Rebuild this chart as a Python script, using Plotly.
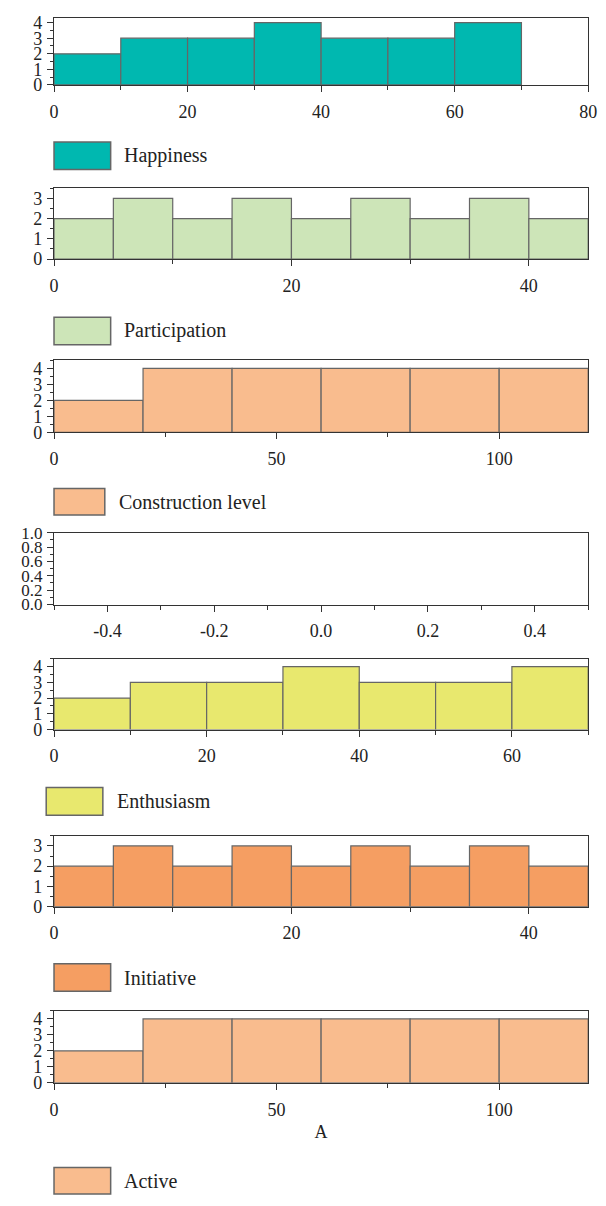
import plotly.graph_objects as go

# ---------------- data ----------------
happiness_edges = [0, 10, 20, 30, 40, 50, 60]
happiness_counts = [2, 3, 3, 4, 3, 3, 4]
happiness_width = 10

participation_edges = [0, 5, 10, 15, 20, 25, 30, 35, 40]
participation_counts = [2, 3, 2, 3, 2, 3, 2, 3, 2]
participation_width = 5

construction_edges = [0, 20, 40, 60, 80, 100]
construction_counts = [2, 4, 4, 4, 4, 4]
construction_width = 20

enthusiasm_edges = [0, 10, 20, 30, 40, 50, 60]
enthusiasm_counts = [2, 3, 3, 4, 3, 3, 4]
enthusiasm_width = 10

initiative_edges = [0, 5, 10, 15, 20, 25, 30, 35, 40]
initiative_counts = [2, 3, 2, 3, 2, 3, 2, 3, 2]
initiative_width = 5

active_edges = [0, 20, 40, 60, 80, 100]
active_counts = [2, 4, 4, 4, 4, 4]
active_width = 20

empty_xticks = [-0.4, -0.2, 0.0, 0.2, 0.4]
empty_xticktext = ["-0.4", "-0.2", "0.0", "0.2", "0.4"]

series_names = ["Happiness", "Participation", "Construction level", None,
                "Enthusiasm", "Initiative", "Active"]

# ---------------- styling ----------------
PAGE_W, PAGE_H = 606, 1206
BODY = 8  # default page margin of the html body
W, H = PAGE_W - BODY, PAGE_H - BODY
FONT = "Liberation Serif"
EDGE = "#666666"
AX = "#333333"
TXT = "#222222"

colors = ["#00B8B0", "#CDE5B8", "#F9BC8E", None, "#E8E86E", "#F59E62", "#F9BC8E"]
# pixel geometry of panels on the page: (top, bottom)
panels_px = [(9, 77), (182, 254), (357, 430), (532, 605), (660, 732), (840, 912), (1018, 1091)]
x_left, x_right = 50, 597
xranges = [[0, 80], [0, 45], [0, 120], [-0.5, 0.5], [0, 70], [0, 45], [0, 120]]
xdt = [(20, 10), (20, 10), (50, 25), (0.2, 0.1), (20, 10), (20, 10), (50, 25)]
yranges = [[0, 4.3], [0, 3.5], [0, 4.5], [0, 1], [0, 4.5], [0, 3.5], [0, 4.5]]
ydt = [(1, 0.5), (1, 0.5), (1, 0.5), (0.2, 0.1), (1, 0.5), (1, 0.5), (1, 0.5)]
# legend boxes on the page: (x0, x1, y0, y1, text_x)
legend_px = [(50, 108, 135, 163, 120), (50, 108, 313, 341, 120), (50, 102, 487, 514, 114),
             None, (42, 100, 791, 819, 112), (50, 108, 970, 998, 120), (50, 108, 1177, 1204, 120)]


def px_x(v):
    return min(1.0, max(0.0, (v - BODY) / W))


def px_y(v):
    return min(1.0, max(0.0, 1 - (v - BODY) / H))


data = [
    (happiness_edges, happiness_counts, happiness_width),
    (participation_edges, participation_counts, participation_width),
    (construction_edges, construction_counts, construction_width),
    None,
    (enthusiasm_edges, enthusiasm_counts, enthusiasm_width),
    (initiative_edges, initiative_counts, initiative_width),
    (active_edges, active_counts, active_width),
]

fig = go.Figure()
layout = dict(
    width=W, height=H, margin=dict(l=0, r=0, t=0, b=0, pad=0),
    paper_bgcolor="white", plot_bgcolor="white", showlegend=False,
    font=dict(family=FONT, size=18, color=TXT),
    shapes=[], annotations=[],
)

for i in range(7):
    n = i + 1
    xa = "x" if n == 1 else f"x{n}"
    ya = "y" if n == 1 else f"y{n}"
    d = data[i]
    if d is not None:
        edges, counts, width = d
        fig.add_trace(go.Bar(
            x=edges, y=counts, width=[width] * len(edges), offset=0,
            marker=dict(color=colors[i], line=dict(color=EDGE, width=1.2)),
            xaxis=xa, yaxis=ya, name=series_names[i],
        ))
    else:
        fig.add_trace(go.Scatter(x=[], y=[], xaxis=xa, yaxis=ya, mode="markers"))

    top, bot = panels_px[i]
    xkey = "xaxis" if n == 1 else f"xaxis{n}"
    ykey = "yaxis" if n == 1 else f"yaxis{n}"
    xax = dict(
        domain=[px_x(x_left), px_x(x_right)], anchor=ya, range=xranges[i],
        showgrid=False, zeroline=False, showline=True, linecolor=AX, linewidth=1.2,
        mirror=True, ticks="outside", ticklen=6, tickcolor=AX, tickwidth=1.2,
        tickfont=dict(family=FONT, size=18, color=TXT),
        ticklabelstandoff=4, ticklabeloverflow="allow",
        minor=dict(dtick=xdt[i][1], ticks="outside", ticklen=4, tickcolor=AX, tickwidth=1.2, showgrid=False),
        fixedrange=True,
    )
    if i == 3:
        xax.update(tickmode="array", tickvals=empty_xticks, ticktext=empty_xticktext,
                   minor=dict(tick0=-0.3, dtick=0.2, ticks="outside", ticklen=4,
                              tickcolor=AX, tickwidth=1.2, showgrid=False))
    else:
        xax.update(tickmode="linear", tick0=0, dtick=xdt[i][0])
    if i == 6:
        xax.update(title=dict(text="A", font=dict(family=FONT, size=18, color=TXT), standoff=6))
    yax = dict(
        domain=[px_y(bot), px_y(top)], anchor=xa, range=yranges[i],
        showgrid=False, zeroline=False, showline=True, linecolor=AX, linewidth=1.2,
        mirror=True, ticks="outside", ticklen=6, tickcolor=AX, tickwidth=1.2,
        tickmode="linear", tick0=0, dtick=ydt[i][0],
        tickfont=dict(family=FONT, size=18, color=TXT),
        ticklabelstandoff=1, ticklabeloverflow="allow",
        minor=dict(dtick=ydt[i][1], ticks="outside", ticklen=3, tickcolor=AX, tickwidth=1.2, showgrid=False),
        fixedrange=True,
    )
    if i == 3:
        yax.update(tickformat=".1f", tickfont=dict(family=FONT, size=17, color=TXT))
    layout[xkey] = xax
    layout[ykey] = yax

    lp = legend_px[i]
    if lp is not None:
        x0, x1, y0, y1, tx = lp
        layout["shapes"].append(dict(
            type="rect", xref="paper", yref="paper",
            x0=px_x(x0), x1=px_x(x1), y0=px_y(y1), y1=px_y(y0),
            fillcolor=colors[i], line=dict(color=EDGE, width=1.5),
        ))
        layout["annotations"].append(dict(
            xref="paper", yref="paper", x=px_x(tx), y=px_y((y0 + y1) / 2),
            xanchor="left", yanchor="middle", showarrow=False,
            text=series_names[i], font=dict(family=FONT, size=20, color=TXT),
        ))

fig.update_layout(**layout)
fig.write_html("out.html")
